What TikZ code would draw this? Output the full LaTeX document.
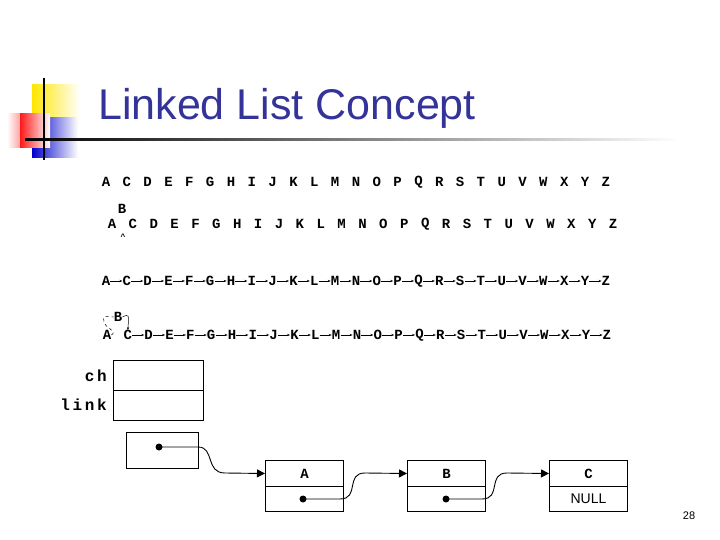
\documentclass[tikz,border=0pt]{standalone}
\usepackage{fontspec}
\setmainfont{Liberation Sans}
\newfontfamily\mono{Liberation Mono}
\usetikzlibrary{arrows.meta}
\definecolor{ttl}{HTML}{333399}
\begin{document}
\begin{tikzpicture}[x=1pt,y=-1pt,
  let/.style={font=\mono\bfseries\fontsize{14}{14}\selectfont,inner sep=0pt},
  cell/.style={draw,line width=1pt,minimum width=78pt,minimum height=26pt,inner sep=0pt,anchor=north west},
  wire/.style={line width=0.9pt,-{Triangle[length=8pt,width=8pt]}},
  dot/.style={circle,fill,inner sep=0pt,minimum size=7pt}]
\useasboundingbox (0,0) rectangle (720,540);
% decorations
\shade[left color=yellow!80!orange,right color=white] (32,85) rectangle (80,125);
\shade[left color=blue!80!black,right color=white] (32,118) rectangle (78,158);
\shade[left color=white,right color=red!90] (7,114) rectangle (40,148);
\shade[left color=red!90,right color=white] (20,114) rectangle (50,148);
\draw[line width=1.4pt] (44,78) -- (44,160);
\shade[left color=black,right color=white] (25,139) rectangle (680,141);
\node[font=\fontsize{43}{43}\selectfont,text=ttl,anchor=base west,inner sep=0pt] (title) at (98,120) {Linked List Concept};
% rows
\foreach \l [count=\i from 0] in {A,C,D,E,F,G,H,I,J,K,L,M,N,O,P,Q,R,S,T,U,V,W,X,Y,Z}{
  \node[let] (r1\i) at (106+20.83*\i,182) {\l};
  \node[let] (r2\i) at (112+20.88*\i,224) {\l};
  \node[let] (r3\i) at (106+20.83*\i,281) {\l};
  \node[let] (r4\i) at (107+20.83*\i,335) {\l};
}
\node[let] (r2b) at (122,209) {B};
\node[font=\mono\bfseries\fontsize{8}{8}\selectfont,inner sep=0pt] (car) at (123,237) {\^{}};
\foreach \i [evaluate=\i as \j using int(\i+1)] in {0,...,23}{
  \draw[-{Stealth[length=3pt]},line width=0.6pt] (r3\i.east) -- (r3\j.west);
}
\foreach \i [evaluate=\i as \j using int(\i+1)] in {1,...,23}{
  \draw[-{Stealth[length=3pt]},line width=0.6pt] (r4\i.east) -- (r4\j.west);
}
\node[let] (r4b) at (118,317) {B};
\draw[line width=0.5pt,dashed] (r40.east) .. controls (118,331) and (105,328) .. (104,322) .. controls (103,316) .. (r4b.west);
\draw[-{Stealth[length=3pt]},line width=0.5pt] (r4b.east) .. controls (129,314) .. (r41.north);
% record
\node[cell,minimum width=90pt,minimum height=30pt] (ch) at (113,360) {};
\node[cell,minimum width=90pt,minimum height=30pt] (lk) at (113,390) {};
\node[font=\mono\bfseries\fontsize{16}{16}\selectfont,anchor=east,inner sep=0pt] (chl) at (107,376) {c\,h};
\node[font=\mono\bfseries\fontsize{16}{16}\selectfont,anchor=east,inner sep=0pt] (lkl) at (107,405) {l\,i\,n\,k};
% head
\node[draw,line width=0.5pt,minimum width=72pt,minimum height=36pt,anchor=north west] (head) at (126,432) {};
\node[dot] (hd) at (159,447) {};
% nodes
\foreach \n/\x/\t in {A/265/A,B/407/B,C/549/C}{
  \node[cell,font=\mono\bfseries\fontsize{14}{14}\selectfont] (\n t) at (\x,460) {\t};
  \node[cell,minimum height=25pt] (\n b) at (\x,486) {};
}
\node[font=\fontsize{14}{14}\selectfont] at (Cb) {NULL};
\node[dot] (ad) at (303,499) {};
\node[dot] (bd) at (446,499) {};
\draw[wire] (hd.center) -- (198,447) .. controls (215,447) and (205,473) .. (225,473) -- (At.west);
\draw[wire] (ad.center) -- (340,499) .. controls (360,499) and (345,473) .. (365,473) -- (Bt.west);
\draw[wire] (bd.center) -- (482,499) .. controls (502,499) and (487,473) .. (507,473) -- (Ct.west);
\node[font=\fontsize{11}{11}\selectfont] (pg) at (689,516) {28};
\end{tikzpicture}
\end{document}
